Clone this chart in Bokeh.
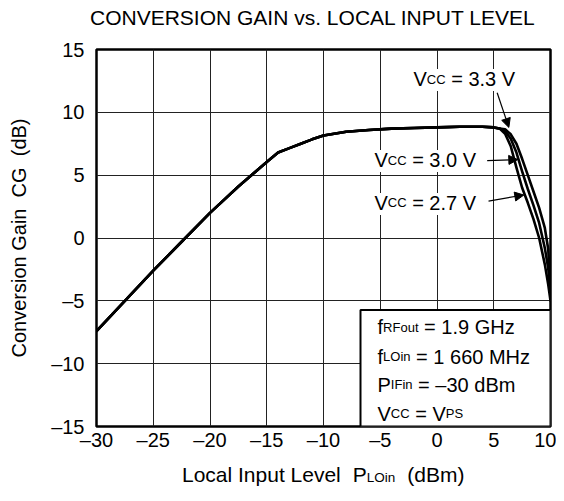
from bokeh.plotting import figure
from bokeh.models import FixedTicker, Label, Arrow, NormalHead, BoxAnnotation, Div
from bokeh.layouts import column
from bokeh.embed import file_html
from bokeh.resources import INLINE

FONT = "Liberation Sans"
MAIN = 20
SUB = 13

# ---------------- data ----------------
x_ticks = [-30, -25, -20, -15, -10, -5, 0, 5, 10]
y_ticks = [-15, -10, -5, 0, 5, 10, 15]

# common part of the three curves (PLOin dBm -> CG dB)
gain_x = [-30, -27.5, -25, -22.5, -20, -17.5, -15, -14, -13, -12, -11, -10,
          -8, -6, -4, -2, 0, 2, 4, 5, 5.5]
gain_y = [-7.4, -5.0, -2.6, -0.3, 2.0, 4.1, 6.05, 6.8, 7.15, 7.5, 7.85, 8.15,
          8.45, 8.6, 8.7, 8.75, 8.8, 8.85, 8.85, 8.8, 8.72]

# roll-off for each supply voltage
tail_x = [6.0, 6.5, 7.0, 7.5, 8.0, 8.5, 9.0, 9.5, 9.8, 10.0]
tail_27 = [8.3, 7.3, 5.6, 4.0, 2.8, 1.5, 0.0, -2.1, -3.7, -5.0]
tail_30 = [8.5, 7.9, 6.8, 5.3, 3.9, 2.6, 1.2, -0.8, -2.4, -4.6]
tail_33 = [8.65, 8.25, 7.5, 6.3, 5.0, 3.7, 2.4, 0.8, -0.9, -4.2]

title_text = "CONVERSION GAIN vs. LOCAL INPUT LEVEL"
y_title = "Conversion Gain\u00a0 CG\u00a0 (dB)"
x_title = ("Local Input Level", "P", "LOin", "(dBm)")
vcc_labels = ["3.3 V", "3.0 V", "2.7 V"]
cond_lines = [
    [("f", MAIN), ("RFout", SUB), (" = 1.9 GHz", MAIN)],
    [("f", MAIN), ("LOin", SUB), (" = 1 660 MHz", MAIN)],
    [("P", MAIN), ("IFin", SUB), (" = \u201330 dBm", MAIN)],
    [("V", MAIN), ("CC", SUB), (" = V", MAIN), ("PS", SUB)],
]

# ---------------- helpers ----------------
W = {' ': .278, '=': .584, '.': .278, '\u2013': .556, '(': .333, ')': .333,
     'V': .667, 'C': .722, 'R': .722, 'F': .611, 'L': .556, 'O': .778, 'I': .278,
     'P': .667, 'S': .667, 'G': .778, 'H': .722, 'M': .833, 'B': .667,
     'f': .278, 'o': .556, 'u': .556, 't': .278, 'i': .222, 'n': .556, 'z': .5,
     'd': .556, 'm': .833, 'c': .5, 'a': .556, 'l': .222, 'e': .556, 'v': .5,
     'p': .556, 's': .5}


def tw(s, size):
    return sum(W.get(ch, .556) for ch in s) * size


PXX = 454 / 40.0
PXY = 377 / 30.0


def rich(p, x, y, segs):
    off = 0.0
    for text, size in segs:
        stripped = text.lstrip(" ")
        off += tw(text[:len(text) - len(stripped)], size)
        p.add_layout(Label(x=x, y=y, x_offset=off, text=stripped,
                           text_font=FONT, text_font_size=f"{size}px",
                           text_baseline="alphabetic", text_align="left",
                           text_color="black"))
        off += tw(stripped, size)
    return off


def segs_width(segs):
    return sum(tw(t, s) for t, s in segs)


# ---------------- title (HTML text above the plot) ----------------
title_div = Div(
    text=(f'<div style="font-family:\'{FONT}\';font-size:21px;line-height:24px;'
          f'padding-top:6px;padding-left:90px;width:466px;text-align:center;'
          f'white-space:nowrap;color:black">{title_text}</div>'),
    width=556, height=30, margin=0)

# ---------------- figure ----------------
p = figure(width=556, height=432, x_range=(-30, 10), y_range=(-15, 15),
           output_backend="svg", toolbar_location=None,
           min_border_left=96, min_border_right=6, min_border_top=19,
           min_border_bottom=36)
p.background_fill_color = "white"
p.border_fill_color = "white"
p.outline_line_color = "black"
p.outline_line_width = 2.5

for ax in (p.xaxis[0], p.yaxis[0]):
    ax.axis_line_color = None
    ax.major_tick_line_color = None
    ax.minor_tick_line_color = None
    ax.major_tick_out = 0
    ax.major_tick_in = 0
    ax.minor_tick_out = 0
    ax.major_label_text_font = FONT
    ax.major_label_text_font_size = f"{MAIN}px"
    ax.major_label_text_color = "black"

p.xaxis.ticker = FixedTicker(ticks=x_ticks)
p.yaxis.ticker = FixedTicker(ticks=y_ticks)
p.xaxis.major_label_overrides = {t: (f"\u2013{-t}" if t < 0 else f"{t}") for t in x_ticks}
p.yaxis.major_label_overrides = {t: (f"\u2013{-t}" if t < 0 else f"{t}") for t in y_ticks}
p.xaxis.major_label_standoff = 2
p.yaxis.major_label_standoff = 12

p.yaxis.axis_label = y_title
p.yaxis.axis_label_text_font = FONT
p.yaxis.axis_label_text_font_size = f"{MAIN}px"
p.yaxis.axis_label_text_font_style = "normal"
p.yaxis.axis_label_text_color = "black"
p.yaxis.axis_label_standoff = 18

p.xgrid.grid_line_color = "#222222"
p.ygrid.grid_line_color = "#222222"
p.xgrid.grid_line_width = 1
p.ygrid.grid_line_width = 1
p.xgrid.ticker = FixedTicker(ticks=x_ticks)
p.ygrid.ticker = FixedTicker(ticks=y_ticks)

# curves
for tail in (tail_27, tail_30, tail_33):
    p.line(gain_x + tail_x, gain_y + tail, line_color="black", line_width=2.6,
           line_join="round", line_cap="round")

# VCC labels with white background and arrows
vcc_pos = [(-2.07, 12.01 + 8 / PXY), (-5.51, 5.57 + 8 / PXY), (-5.51, 2.15 + 8 / PXY)]
arrows = [((5.30, 11.56), (6.33, 8.80)),
          ((4.42, 6.15), (7.12, 6.24)),
          ((4.54, 2.94), (7.65, 3.42))]
for lab, (lx, ly) in zip(vcc_labels, vcc_pos):
    segs = [("V", MAIN), ("CC", SUB), (" = " + lab, MAIN)]
    w = segs_width(segs)
    p.add_layout(BoxAnnotation(left=lx - 3 / PXX, right=lx + (w + 3) / PXX,
                               bottom=ly - 12 / PXY, top=ly + 10 / PXY,
                               fill_color="white", fill_alpha=1.0,
                               line_color=None))
    rich(p, lx, ly, segs)

for (s, e) in arrows:
    p.add_layout(Arrow(end=NormalHead(size=9, fill_color="black",
                                      line_color="black", line_width=1),
                       x_start=s[0], y_start=s[1], x_end=e[0], y_end=e[1],
                       line_color="black", line_width=1.2))

# condition box
p.add_layout(BoxAnnotation(left=-6.74, right=10, top=-5.73, bottom=-15,
                           fill_color="white", fill_alpha=1.0,
                           line_color="black", line_width=2, line_alpha=1.0))
cond_base = [-7.56, -9.94, -12.17, -14.48]
for segs, yb in zip(cond_lines, cond_base):
    rich(p, -5.24, yb + 6 / PXY, segs)

# x-axis title (with subscript) as real HTML text below the plot
xt = (
    f'<div style="font-family:\'{FONT}\';font-size:21px;line-height:26px;'
    f'padding-left:182px;padding-top:0px;white-space:nowrap;color:black">'
    f'<span>{x_title[0]}</span>'
    f'<span style="margin-left:12px">{x_title[1]}</span>'
    f'<span style="font-size:13.5px">{x_title[2]}</span>'
    f'<span style="margin-left:12px">{x_title[3]}</span></div>'
)
div = Div(text=xt, width=556, height=34, margin=0)

layout = column(title_div, p, div, spacing=0)
open("out.html", "w").write(file_html(layout, INLINE))
